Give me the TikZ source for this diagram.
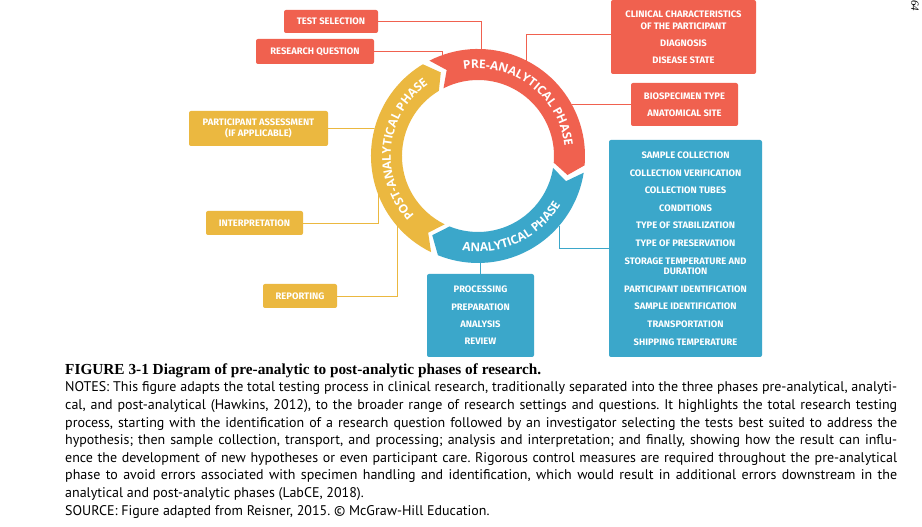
\documentclass[tikz,border=0pt]{standalone}
\usepackage{fontspec}
\setmainfont{PT Sans}
\newfontfamily\boxtextfont{Fira Sans}
\newfontfamily\ringfont{Open Sans}
\newfontfamily\captitlefont{Liberation Serif}
\usetikzlibrary{decorations.text}

\definecolor{prered}{HTML}{F0614F}
\definecolor{anablue}{HTML}{3BA7CA}
\definecolor{postyellow}{HTML}{EBB840}
\newcommand{\ringtext}{\color{white}\ringfont\bfseries\fontsize{12}{13}\selectfont}

\begin{document}
\begin{tikzpicture}[x=1pt, y=1pt, % one unit is one pixel of the figure
  box/.style={rounded corners=2pt, inner sep=0pt, align=center, text=white,
    font=\boxtextfont\bfseries\fontsize{9.4}{10.5}\selectfont}, % the label boxes
  redbox/.style={box, fill=prered},
  bluebox/.style={box, fill=anablue},
  yellowbox/.style={box, fill=postyellow},
  link/.style={line width=0.8pt}, % thin lines from the boxes to the ring
]
  \fill[white] (0,0) rectangle (922,527);
  \useasboundingbox (0,0) rectangle (922,527);

  % the ring of three phases
  \begin{scope}[shift={(478,371)}]
    \fill[prered] (117:107) arc[start angle=117, end angle=-5, radius=107] -- (-12:91.5)
      -- (-5:76) arc[start angle=-5, end angle=117, radius=76] -- (110:91.5) -- cycle;
    \fill[anablue] (-9:107) arc[start angle=-9, end angle=-112, radius=107] -- (-120:91.5)
      -- (-112:76) arc[start angle=-112, end angle=-9, radius=76] -- (-16:91.5) -- cycle;
    \fill[postyellow] (244:107) arc[start angle=244, end angle=121, radius=107] -- (114:91.5)
      -- (121:76) arc[start angle=121, end angle=244, radius=76] -- (237:91.5) -- cycle;

    \path[decorate, decoration={text along path, text align=center,
      text={|\ringtext|PRE-ANALYTICAL PHASE}}] (114:87.2) arc[start angle=114, end angle=-8, radius=87.2];
    \path[decorate, decoration={text along path, text align=center,
      text={|\ringtext|ANALYTICAL PHASE}}] (244:95.8) arc[start angle=244, end angle=346, radius=95.8];
    \path[decorate, decoration={text along path, text align=center,
      text={|\ringtext|POST-ANALYTICAL PHASE}}] (242:87.2) arc[start angle=242, end angle=106, radius=87.2];

    % where the lines meet the ring
    \coordinate (ts) at (88:107);
    \coordinate (rq) at (110:105);
    \coordinate (cl) at (63:107);
    \coordinate (bs) at (28.8:107);
    \coordinate (pa) at (165.1:107);
    \coordinate (ip) at (200.8:107);
    \coordinate (rp) at (220.8:107);
    \coordinate (pr) at (271.3:107);
    \coordinate (sc) at (-40.8:107);
  \end{scope}

  % pre-analytical boxes
  \node[redbox, minimum width=94, minimum height=23] (testsel) at (331,505.5) {TEST SELECTION};
  \node[redbox, minimum width=118, minimum height=25] (resq) at (315,475.5) {RESEARCH QUESTION};
  \node[redbox, minimum width=145, minimum height=74] (clin) at (683.5,490)
    {CLINICAL CHARACTERISTICS\\[1pt]OF THE PARTICIPANT\\[6.5pt]DIAGNOSIS\\[6.5pt]DISEASE STATE};
  \node[redbox, minimum width=107, minimum height=43] (bio) at (684.5,422.5)
    {BIOSPECIMEN TYPE\\[6.8pt]ANATOMICAL SITE};

  % post-analytical boxes
  \node[yellowbox, minimum width=139, minimum height=35] (partass) at (258.5,398.5)
    {PARTICIPANT ASSESSMENT\\(IF APPLICABLE)};
  \node[yellowbox, minimum width=97, minimum height=24] (interp) at (254.5,304) {INTERPRETATION};
  \node[yellowbox, minimum width=74, minimum height=24] (report) at (300,231) {REPORTING};

  % analytical boxes
  \node[bluebox, minimum width=107, minimum height=83] (proc) at (480.5,211.5)
    {PROCESSING\\[6.8pt]PREPARATION\\[6.8pt]ANALYSIS\\[6.8pt]REVIEW};
  \node[bluebox, minimum width=153, minimum height=217] (sample) at (685.5,278.5)
    {SAMPLE COLLECTION\\[7.1pt]COLLECTION VERIFICATION\\[7.1pt]COLLECTION TUBES\\[7.1pt]CONDITIONS\\[7.1pt]
     TYPE OF STABILIZATION\\[7.1pt]TYPE OF PRESERVATION\\[7.1pt]STORAGE TEMPERATURE AND\\DURATION\\[7.1pt]
     PARTICIPANT IDENTIFICATION\\[7.1pt]SAMPLE IDENTIFICATION\\[7.1pt]TRANSPORTATION\\[7.1pt]SHIPPING TEMPERATURE};

  % lines from the boxes to the ring
  \draw[link, prered] (testsel.east) -| (ts);
  \draw[link, prered] (resq.east) -| (rq);
  \draw[link, prered] ([yshift=3pt]clin.west) -| (cl);
  \draw[link, prered] (bio.west) -- (bs);
  \draw[link, postyellow] (partass.east) -- (pa);
  \draw[link, postyellow] (interp.east) -| (ip);
  \draw[link, postyellow] (report.east) -| (rp);
  \draw[link, anablue] (proc.north) -- (pr);
  \draw[link, anablue] (sample.west) -| (sc);

  \node[rotate=-90, anchor=south west, inner sep=0pt, font=\captitlefont\itshape\fontsize{11}{11}\selectfont]
    (pageno) at (911,527) {64};

  % caption
  \node[anchor=base west, inner sep=0pt, font=\captitlefont\bfseries\fontsize{15.3}{16}\selectfont]
    (title) at (65,152) {FIGURE 3-1 Diagram of pre-analytic to post-analytic phases of research.};
  \node[anchor=base west, inner sep=0pt, text width=832, align=justify,
    font=\fontsize{14}{17.6}\selectfont\frenchspacing] (notes) at (65,135)
    {NOTES: This figure adapts the total testing process in clinical research, traditionally separated into the three phases pre-analytical, analyti-\linebreak
     cal, and post-analytical (Hawkins, 2012), to the broader range of research settings and questions. It highlights the total research testing\linebreak
     process, starting with the identification of a research question followed by an investigator selecting the tests best suited to address the\linebreak
     hypothesis; then sample collection, transport, and processing; analysis and interpretation; and finally, showing how the result can influ-\linebreak
     ence the development of new hypotheses or even participant care. Rigorous control measures are required throughout the pre-analytical\linebreak
     phase to avoid errors associated with specimen handling and identification, which would result in additional errors downstream in the\linebreak
     analytical and post-analytic phases (LabCE, 2018).\\
     SOURCE: Figure adapted from Reisner, 2015. \textcopyright{} McGraw-Hill Education.};
\end{tikzpicture}
\end{document}
